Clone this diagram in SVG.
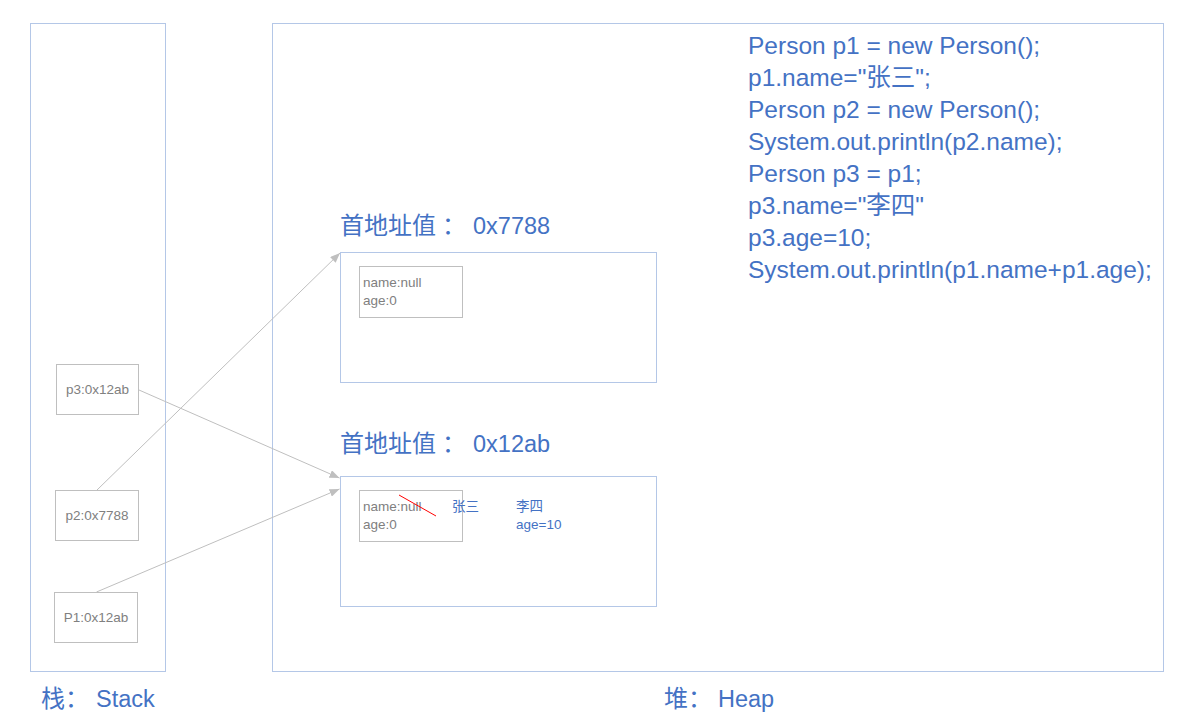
<svg xmlns="http://www.w3.org/2000/svg" width="1193" height="722" viewBox="0 0 1193 722">
<style>
.area{fill:none;stroke:#B4C7E7;stroke-width:1}
.cell{fill:#fff;stroke:#BFBFBF;stroke-width:1}
.g{font-family:"Liberation Sans","Noto Sans CJK SC",sans-serif;font-size:13.5px;fill:#808080}
.b{font-family:"Liberation Sans","Noto Sans CJK SC",sans-serif;fill:#4472C4}
.code{font-size:24.5px}
.title{font-size:24px}
.lat{font-size:23.5px}
.small{font-size:13.5px}
.conn{stroke:#BFBFBF;stroke-width:1;fill:none;marker-end:url(#ah)}
</style>
<defs>
<marker id="ah" viewBox="0 0 10 8" refX="10" refY="4" markerWidth="10" markerHeight="8" orient="auto" markerUnits="userSpaceOnUse">
<path d="M0,0 L10,4 L0,8 z" fill="#BFBFBF"/>
</marker>
</defs>
<rect width="1193" height="722" fill="#fff"/>

<g id="stack">
<rect class="area" x="30.5" y="23.5" width="135" height="648"/>
<text class="b title" x="41" y="707">栈：<tspan class="lat" x="96">Stack</tspan></text>
</g>
<g id="heap">
<rect class="area" x="272.5" y="23.5" width="891" height="648"/>
<text class="b title" x="664" y="707">堆：<tspan class="lat" x="718">Heap</tspan></text>
</g>

<g id="code">
<text class="b code" x="748" y="54">Person p1 = new Person();</text>
<text class="b code" x="748" y="86">p1.name="张三";</text>
<text class="b code" x="748" y="118">Person p2 = new Person();</text>
<text class="b code" x="748" y="150">System.out.println(p2.name);</text>
<text class="b code" x="748" y="182">Person p3 = p1;</text>
<text class="b code" x="748" y="214">p3.name="李四"</text>
<text class="b code" x="748" y="246">p3.age=10;</text>
<text class="b code" x="748" y="278">System.out.println(p1.name+p1.age);</text>
</g>

<g id="obj7788">
<text class="b title" x="340" y="234">首地址值<tspan x="442">：</tspan><tspan class="lat" x="473">0x7788</tspan></text>
<rect class="area" x="340.5" y="252.5" width="316" height="130"/>
<rect class="cell" x="359.5" y="266.5" width="103" height="51"/>
<text class="g" x="363" y="287">name:null</text>
<text class="g" x="363" y="305">age:0</text>
</g>

<g id="obj12ab">
<text class="b title" x="340" y="452">首地址值<tspan x="442">：</tspan><tspan class="lat" x="473">0x12ab</tspan></text>
<rect class="area" x="340.5" y="476.5" width="316" height="130"/>
<rect class="cell" x="359.5" y="490.5" width="103" height="51"/>
<text class="g" x="363" y="511">name:null</text>
<text class="g" x="363" y="529">age:0</text>
<line x1="399" y1="495" x2="436" y2="516" stroke="#FF0000" stroke-width="1"/>
<text class="b small" x="452" y="511">张三</text>
<text class="b small" x="516" y="511">李四</text>
<text class="b small" x="516" y="529">age=10</text>
</g>

<g id="p3">
<rect class="cell" x="56.5" y="364.5" width="82" height="50"/>
<text class="g" x="97.5" y="394" text-anchor="middle">p3:0x12ab</text>
</g>
<g id="p2">
<rect class="cell" x="55.5" y="490.5" width="83" height="50"/>
<text class="g" x="97" y="520" text-anchor="middle">p2:0x7788</text>
</g>
<g id="p1">
<rect class="cell" x="54.5" y="592.5" width="83" height="50"/>
<text class="g" x="96" y="622" text-anchor="middle">P1:0x12ab</text>
</g>

<g id="connectors">
<line class="conn" x1="139" y1="390" x2="339.5" y2="478"/>
<line class="conn" x1="97" y1="490" x2="340" y2="253"/>
<line class="conn" x1="96.5" y1="592" x2="339.5" y2="489"/>
</g>
</svg>
